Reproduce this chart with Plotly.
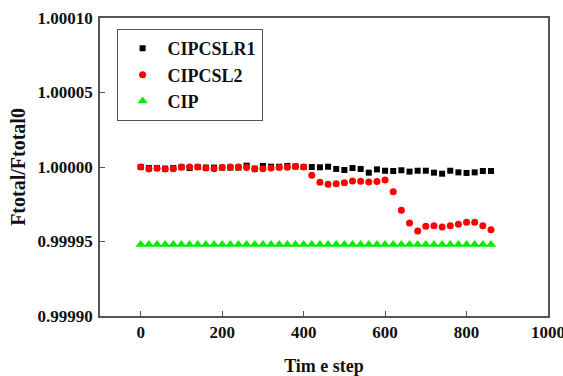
import plotly.graph_objects as go

steps = list(range(0, 861, 20))

cipcslr1 = [1.0, 0.9999993, 0.9999993, 0.9999989, 0.9999993, 0.9999998, 0.9999993, 1.0,
            0.9999996, 0.9999996, 0.9999996, 0.9999996, 0.9999996, 1.0000009, 0.9999989,
            1.0000007, 1.0000002, 1.0000002, 1.0000007, 1.0000004, 1.0, 1.0, 0.9999998,
            1.0000002, 0.9999987, 0.9999980, 0.9999993, 0.9999987, 0.9999962, 0.9999984,
            0.9999975, 0.9999973, 0.9999978, 0.9999969, 0.9999975, 0.9999975, 0.9999962,
            0.9999955, 0.9999975, 0.9999964, 0.9999960, 0.9999964, 0.9999973, 0.9999973]

cipcsl2 = [1.0, 0.9999987, 0.9999991, 0.9999987, 0.9999989, 1.0, 1.0, 1.0, 0.9999993,
           0.9999989, 0.9999996, 1.0, 1.0, 0.9999996, 0.9999987, 0.9999989, 0.9999993,
           0.9999996, 0.9999998, 1.0000004, 1.0, 0.9999944, 0.9999897, 0.9999884,
           0.9999888, 0.9999895, 0.9999906, 0.9999904, 0.9999899, 0.9999902, 0.9999913,
           0.9999834, 0.9999709, 0.9999624, 0.9999570, 0.9999602, 0.9999606, 0.9999597,
           0.9999606, 0.9999615, 0.9999629, 0.9999629, 0.9999606, 0.9999579]

cip = [0.999948] * len(steps)

x_ticks = [0, 200, 400, 600, 800, 1000]
y_ticks = [0.9999, 0.99995, 1.0, 1.00005, 1.0001]
y_tick_labels = ["0.99990", "0.99995", "1.00000", "1.00005", "1.00010"]

font = "Liberation Serif"

fig = go.Figure()
fig.add_trace(go.Scatter(x=steps, y=cipcslr1, mode="markers", name="<b>CIPCSLR1</b>",
                         marker=dict(symbol="square", size=6, color="black")))
fig.add_trace(go.Scatter(x=steps, y=cipcsl2, mode="markers", name="<b>CIPCSL2</b>",
                         marker=dict(symbol="circle", size=7, color="#ff0000")))
fig.add_trace(go.Scatter(x=steps, y=cip, mode="markers", name="<b>CIP</b>",
                         marker=dict(symbol="triangle-up", size=9, color="#00ee00")))

axis_common = dict(showgrid=False, zeroline=False, showline=True, linecolor="#555555",
                   linewidth=1.5, mirror=True, ticks="inside", ticklen=5, tickwidth=1,
                   tickcolor="#555555", automargin=False, ticklabeloverflow="allow",
                   tickfont=dict(family=font, size=17, color="#111111"))

fig.update_layout(
    width=563, height=376,
    margin=dict(l=100, r=15, t=18, b=60),
    plot_bgcolor="white", paper_bgcolor="white",
    font=dict(family=font, color="#111111"),
    showlegend=True,
    legend=dict(x=0.037, y=0.963, xanchor="left", yanchor="top",
                bordercolor="#555555", borderwidth=1, bgcolor="white",
                font=dict(family=font, size=18, color="#111111"),
                itemwidth=40),
    xaxis=dict(range=[-100, 1000.01], tickvals=x_ticks,
               ticktext=[f"<b>{v}</b>" for v in x_ticks],
               title=dict(text="<b>Tim e step</b>", font=dict(family=font, size=18), standoff=19),
               ticklabelstandoff=0,
               **axis_common),
    yaxis=dict(range=[0.9999, 1.0001], tickvals=y_ticks,
               ticktext=[f"<b>{t}</b>" for t in y_tick_labels],
               title=dict(text="<b>Ftotal/Ftotal0</b>", font=dict(family=font, size=20), standoff=7),
               ticklabelstandoff=2,
               **axis_common),
)

fig.write_html("out.html")
